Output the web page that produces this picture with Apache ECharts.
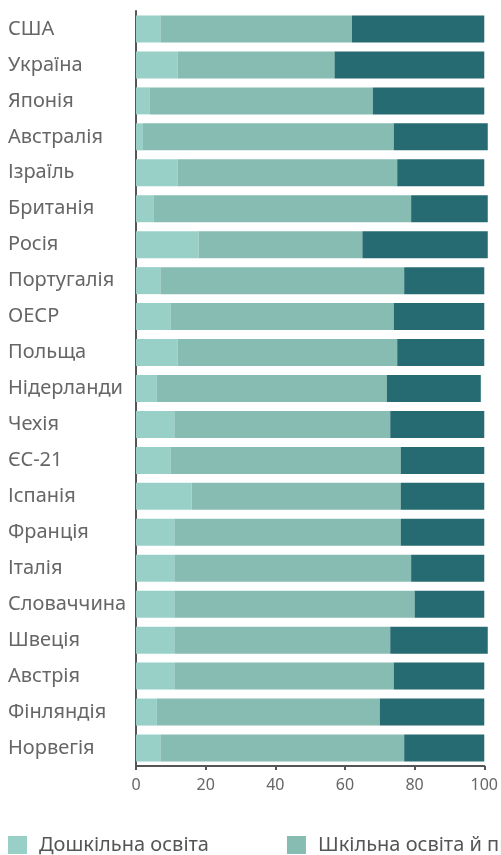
<!DOCTYPE html>
<html>
<head>
    <meta charset="utf-8">
    <title>chart</title>
    <script src="https://cdn.jsdelivr.net/npm/echarts@6/dist/echarts.min.js"></script>
    <style>
        html, body { margin: 0; padding: 0; background: #fff; }
        #main { width: 501px; height: 855px; }
    </style>
</head>
<body>
    <div id="main"></div>
    <script>
        var countries = ['США', 'Україна', 'Японія', 'Австралія', 'Ізраїль', 'Британія', 'Росія', 'Португалія', 'ОЕСР', 'Польща',
            'Нідерланди', 'Чехія', 'ЄС-21', 'Іспанія', 'Франція', 'Італія', 'Словаччина', 'Швеція', 'Австрія', 'Фінляндія', 'Норвегія'];
        var preschool = [7, 12, 4, 2, 12, 5, 18, 7, 10, 12, 6, 11, 10, 16, 11, 11, 11, 11, 11, 6, 7];
        var school = [55, 45, 64, 72, 63, 74, 47, 70, 64, 63, 66, 62, 66, 60, 65, 68, 69, 62, 63, 64, 70];
        var higher = [38, 43, 32, 27, 25, 22, 36, 23, 26, 25, 27, 27, 24, 24, 24, 21, 20, 28, 26, 30, 23];
        var seriesNames = ['Дошкільна освіта', 'Шкільна освіта й профтехосвіта', 'Вища освіта'];
        var colors = ['#98d0c8', '#86bcb2', '#266b71'];

        var myChart = echarts.init(document.getElementById('main'));
        var dataList = [preschool, school, higher];
        var series = [];
        for (var i = 0; i < dataList.length; i++) {
            series.push({
                name: seriesNames[i],
                type: 'bar',
                stack: 'total',
                barWidth: 27,
                clip: false,
                data: dataList[i]
            });
        }

        var option = {
            color: colors,
            animation: false,
            textStyle: { fontFamily: 'Noto Sans' },
            grid: { left: 136, right: 15, top: 11, height: 755 },
            legend: {
                left: 3,
                top: 830,
                width: 1500,
                itemWidth: 19,
                itemHeight: 18,
                itemGap: 78,
                icon: 'rect',
                textStyle: { fontSize: 20, color: '#555', fontFamily: 'Noto Sans', padding: [0, 0, 0, 7] }
            },
            xAxis: {
                type: 'value',
                min: 0,
                max: 100,
                interval: 20,
                splitLine: { show: false },
                axisLine: { show: true, lineStyle: { color: '#555', width: 2 } },
                axisTick: { show: true, length: 4, lineStyle: { color: '#555', width: 2 } },
                axisLabel: { fontSize: 16, color: '#666', margin: 11 }
            },
            yAxis: {
                type: 'category',
                inverse: true,
                data: countries,
                axisLine: { show: true, lineStyle: { color: '#555', width: 2 } },
                axisTick: { show: false },
                axisLabel: {
                    fontSize: 20,
                    color: '#666',
                    align: 'left',
                    margin: 128
                }
            },
            series: series
        };
        myChart.setOption(option);
    </script>
</body>
</html>
